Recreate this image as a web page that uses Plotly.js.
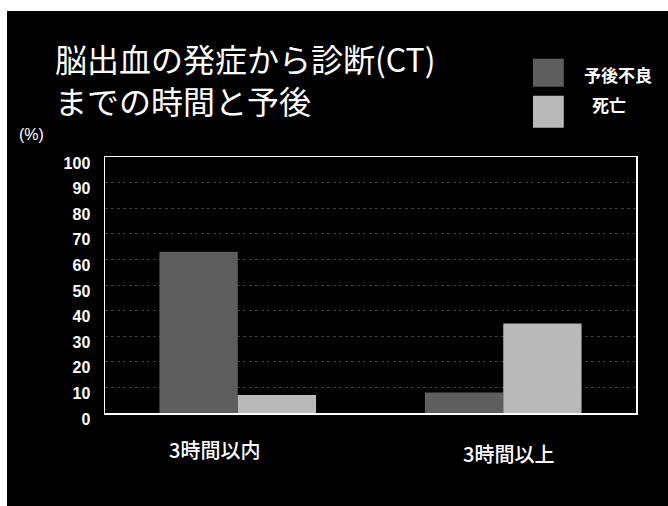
<!DOCTYPE html>
<html>
<head>
<meta charset="utf-8">
<script src="https://cdn.plot.ly/plotly-3.0.1.min.js"></script>
<style>
  html, body { margin: 0; padding: 0; background: #ffffff; }
  body { width: 668px; height: 506px; position: relative; overflow: hidden; }
  #chart { position: absolute; left: 7px; top: 11px; width: 661px; height: 495px; }
</style>
</head>
<body>
<div id="chart"></div>
<script>
// Onset-to-CT time vs. outcome (%)
const categories = ['3時間以内', '3時間以上'];
const seriesNames = ['予後不良', '死亡'];
const poorOutcome = [63, 8];
const death = [7, 35];
const yTickValues = [0, 10, 20, 30, 40, 50, 60, 70, 80, 90, 100];
const yTickLabels = ['0', '10', '20', '30', '40', '50', '60', '70', '80', '90', '100'];
const titleLines = ['脳出血の発症から診断(CT)', 'までの時間と予後'];
const unitLabel = '(%)';

const seriesColors = ['#5e5e5e', '#b9b9b9'];
const jp = '"Noto Sans CJK JP", "Noto Sans", sans-serif';
const latin = '"Liberation Sans", Arial, sans-serif';

const traces = [
  { type: 'bar', name: seriesNames[0], x: categories, y: poorOutcome,
    marker: { color: seriesColors[0], line: { width: 0 } }, hoverinfo: 'x+y' },
  { type: 'bar', name: seriesNames[1], x: categories, y: death,
    marker: { color: seriesColors[1], line: { width: 0 } }, hoverinfo: 'x+y' }
];

// category labels sit under each group, nudged like the slide text boxes
const labelShift = [[-23, -36], [5, -40]];
const annotations = categories.map((c, i) => ({
  x: c, xref: 'x', y: 0, yref: 'paper',
  xshift: labelShift[i][0], yshift: labelShift[i][1],
  xanchor: 'center', yanchor: 'middle', showarrow: false,
  text: c, font: { family: jp, size: 20, color: '#ffffff', weight: 500 }
}));

// hand-built legend with large swatches
const legendSwatches = [
  { y0: 1.2746, y1: 1.384 },
  { y0: 1.1145, y1: 1.2395 }
];
const legendText = [
  { x: 0.898, y: 1.3215 },
  { x: 0.913, y: 1.2043 }
];
const shapes = legendSwatches.map((s, i) => ({
  type: 'rect', xref: 'paper', yref: 'paper',
  x0: 0.806, x1: 0.864, y0: s.y0, y1: s.y1,
  fillcolor: seriesColors[i], line: { width: 0 }
}));
legendText.forEach((p, i) => annotations.push({
  x: p.x, y: p.y, xref: 'paper', yref: 'paper',
  xanchor: 'left', yanchor: 'middle', showarrow: false,
  text: seriesNames[i], font: { family: jp, size: 17, color: '#ffffff', weight: 'bold' }
}));

annotations.push({
  x: -0.138, y: 1.087, xref: 'paper', yref: 'paper',
  xanchor: 'center', yanchor: 'middle', showarrow: false,
  text: unitLabel, font: { family: latin, size: 16, color: '#ffffff' }
});

const layout = {
  width: 661, height: 495,
  paper_bgcolor: '#000000', plot_bgcolor: '#000000',
  margin: { l: 98, r: 32, t: 146, b: 93, pad: 0 },
  showlegend: false,
  barmode: 'group', bargap: 0.41, bargroupgap: 0,
  title: {
    text: titleLines.join('<br>'),
    x: 48 / 661, xref: 'container', xanchor: 'left',
    y: 1 - 61 / 495, yref: 'container', yanchor: 'top',
    font: { family: jp, size: 32, color: '#ffffff' }
  },
  xaxis: {
    type: 'category', showticklabels: false, ticks: '',
    showgrid: false, zeroline: false,
    showline: true, linecolor: '#ffffff', linewidth: 1.5, mirror: true,
    fixedrange: true
  },
  yaxis: {
    range: [0, 100], tickvals: yTickValues, ticktext: yTickLabels,
    ticks: '', ticklabelstandoff: 10, ticklabelshift: 6,
    tickfont: { family: latin, size: 16, color: '#ffffff', weight: 'bold' },
    showgrid: true, gridcolor: '#3c3c3c', griddash: 'dot', gridwidth: 1,
    zeroline: false,
    showline: true, linecolor: '#ffffff', linewidth: 1.5, mirror: true,
    fixedrange: true
  },
  shapes: shapes,
  annotations: annotations
};

Plotly.newPlot('chart', traces, layout, { displayModeBar: false, staticPlot: true });
</script>
</body>
</html>
